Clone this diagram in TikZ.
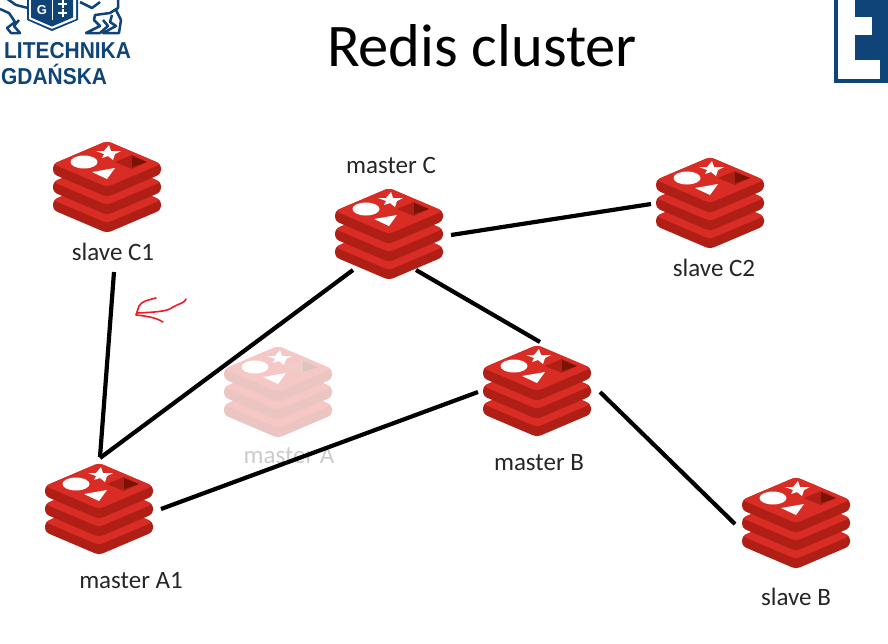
\documentclass[tikz,border=0pt]{standalone}
\usepackage{fontspec}
\setmainfont{Carlito}
\newfontfamily\logofont{Liberation Sans}
\definecolor{rtop}{HTML}{D92C24}
\definecolor{rside}{HTML}{B01F15}
\definecolor{rhole}{HTML}{7A1206}
\definecolor{rholel}{HTML}{B01F15}
\definecolor{rmark}{HTML}{FFFFFF}
\definecolor{logoblue}{HTML}{0F4478}
\definecolor{scribble}{HTML}{EE1C25}
\tikzset{
  x=1pt,y=-1pt,
  label text/.style={font=\fontsize{25}{28}\selectfont,text=black!85,inner sep=0pt},
  link/.style={draw=black,line width=4.2pt},
  logo text/.style={font=\logofont\bfseries\fontsize{23}{26}\selectfont,text=logoblue,inner sep=0pt,anchor=west,xscale=0.91,transform shape},
  lion/.style={draw=logoblue,line width=2.5pt,line join=round,fill=none},
  redis/.pic={
    \foreach \dy in {36,18,0}{
      \fill[rside,rounded corners=4pt] (-54,23+\dy) -- (0,\dy) -- (54,23+\dy) -- (54,33+\dy) -- (0,56+\dy) -- (-54,33+\dy) -- cycle;
      \fill[rtop,rounded corners=4pt] (-54,23+\dy) -- (0,\dy) -- (54,23+\dy) -- (0,46+\dy) -- cycle;
    }
    \fill[rmark] (-23,21) ellipse [x radius=13.5,y radius=6.5];
    \fill[rmark] (-11,10) -- (-3,10) -- (2,4) -- (4,10) -- (14,10) -- (8,13) -- (6,19) -- (1,15) -- (-5,17) -- (-3,13) -- cycle;
    \fill[rmark] (-15,31) -- (8,27) -- (0,38) -- cycle;
    \fill[rholel] (8,21) -- (25,14) -- (40,21) -- (25,28) -- cycle;
    \fill[rhole] (25,15) -- (40,21) -- (25,26) -- cycle;
  }
}
\begin{document}
\begin{tikzpicture}
\useasboundingbox (0,0) rectangle (888,643);
\fill[white] (0,0) rectangle (888,643);

% left logo
\begin{scope}
\clip (0,0) rectangle (200,100);
\fill[logoblue] (27,-2) -- (78,-2) -- (78,20) -- (52,31) -- (27,20) -- cycle;
\fill[white] (29,-2) -- (76,-2) -- (76,19) -- (52,28.8) -- (29,19) -- cycle;
\fill[logoblue] (31,-2) -- (73,-2) -- (73,17.5) -- (52,26.5) -- (31,17.5) -- cycle;
\node[font=\logofont\bfseries\fontsize{13}{13}\selectfont,text=white,inner sep=0pt] (shieldg) at (42,10) {G};
\draw[white,line width=1pt] (52,0) -- (52,20);
\draw[white,line width=2pt] (58,4) -- (67,4) (62.5,0) -- (62.5,8) (58,13) -- (67,13) (62.5,9) -- (62.5,17);
\draw[lion] (6,-2) -- (16,5) -- (28,8) (0,9) -- (9,13) -- (15,22) -- (7,28) -- (11,33) -- (20,33) -- (14,26) -- (19,20);
\draw[lion] (80,2) -- (92,8) -- (100,2) (118,-2) -- (118,8) -- (110,13) -- (95,15) -- (94,20) -- (100,26) -- (86,33) -- (100,33) -- (108,26) -- (103,20);
\draw[lion] (112,15) -- (110,22) -- (116,26) -- (103,33) -- (119,33) -- (121,20) -- (116,10);
\node[logo text] (polit) at (4,51) {LITECHNIKA};
\node[logo text] (gdansk) at (1,74.5) {GDAŃSKA};
\end{scope}

% right logo
\fill[logoblue] (834,-1) rectangle (888,83);
\fill[white] (838,-1) rectangle (855,60);
\fill[white] (838,60) rectangle (880,79);
\fill[white] (855,17) rectangle (872,35);

\node[font=\fontsize{60.5}{66}\selectfont,text=black,inner sep=0pt] (title) at (482,46) {Redis cluster};

% faded server
\begin{scope}
\colorlet{rtop}{rtop!26!white}
\colorlet{rside}{rside!26!white}
\colorlet{rhole}{rhole!25!white}
\colorlet{rholel}{rholel!22!white}
\pic (serverA) at (278,346) {redis};
\end{scope}
\node[label text,text=black!20] (masterA) at (289,456) {master A};

% servers
\pic (serverCa) at (107,141) {redis};
\pic (serverC) at (389,188) {redis};
\pic (serverCb) at (710,157) {redis};
\pic (serverB) at (537,345) {redis};
\pic (serverAa) at (99,463) {redis};
\pic (serverSB) at (796,477) {redis};

% labels
\node[label text] (slaveCa) at (113,252) {slave C1};
\node[label text] (masterC) at (391,165) {master C};
\node[label text] (slaveCb) at (714,268) {slave C2};
\node[label text] (masterB) at (539,463) {master B};
\node[label text] (masterAa) at (131,581) {master A1};
\node[label text] (slaveB) at (796,597) {slave B};

% connector ends
\coordinate (e1) at (114,272);
\coordinate (e2) at (100,457);
\coordinate (e3) at (100,458);
\coordinate (e4) at (353,270);
\coordinate (e5) at (161,509);
\coordinate (e6) at (478,392);
\coordinate (e7) at (451,235);
\coordinate (e8) at (651,204);
\coordinate (e9) at (416,270);
\coordinate (e10) at (540,342);
\coordinate (e11) at (600,392);
\coordinate (e12) at (735,524);
\draw[link] (e1) -- (e2);
\draw[link] (e3) -- (e4);
\draw[link] (e5) -- (e6);
\draw[link] (e7) -- (e8);
\draw[link] (e9) -- (e10);
\draw[link] (e11) -- (e12);

% red scribbled arrow
\draw[scribble,line width=1.6pt,line cap=round,line join=round]
  (186,299) .. controls (185,303) and (178,304) .. (173,307)
  .. controls (168,311) and (160,312) .. (137,313);
\draw[scribble,line width=1.6pt,line cap=round,line join=round]
  (156,298) .. controls (148,300) and (142,301) .. (139,306)
  -- (136,315) .. controls (145,316) and (155,317) .. (163,322);
\end{tikzpicture}
\end{document}
